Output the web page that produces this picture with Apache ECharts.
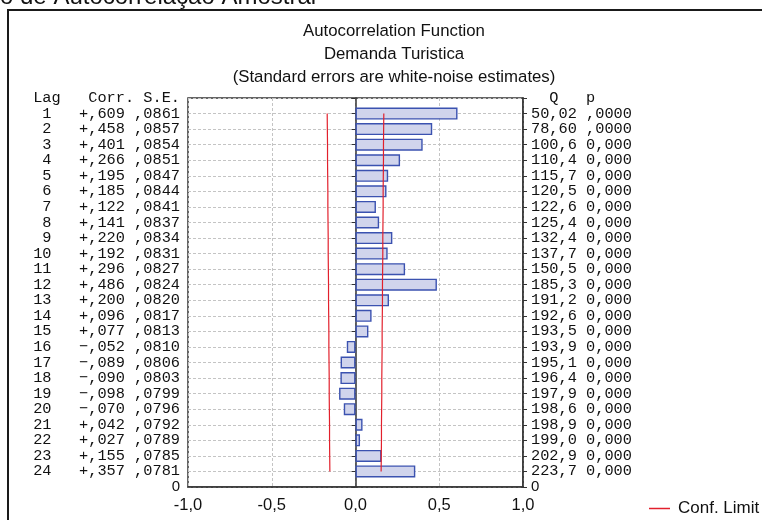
<!DOCTYPE html>
<html><head><meta charset="utf-8">
<script src="https://cdn.jsdelivr.net/npm/echarts@6/dist/echarts.min.js"></script>
<style>html,body{margin:0;padding:0;background:#fff}#c{width:762px;height:520px}</style>
</head><body><div id="c"></div>
<script>
const lags = [1,2,3,4,5,6,7,8,9,10,11,12,13,14,15,16,17,18,19,20,21,22,23,24];
const corr = [0.609,0.458,0.401,0.266,0.195,0.185,0.122,0.141,0.220,0.192,0.296,0.486,0.200,0.096,0.077,-0.052,-0.089,-0.090,-0.098,-0.070,0.042,0.027,0.155,0.357];
const se = [0.0861,0.0857,0.0854,0.0851,0.0847,0.0844,0.0841,0.0837,0.0834,0.0831,0.0827,0.0824,0.0820,0.0817,0.0813,0.0810,0.0806,0.0803,0.0799,0.0796,0.0792,0.0789,0.0785,0.0781];
const qText = ['50,02','78,60','100,6','110,4','115,7','120,5','122,6','125,4','132,4','137,7','150,5','185,3','191,2','192,6','193,5','193,9','195,1','196,4','197,9','198,6','198,9','199,0','202,9','223,7'];
const pText = [',0000',',0000','0,000','0,000','0,000','0,000','0,000','0,000','0,000','0,000','0,000','0,000','0,000','0,000','0,000','0,000','0,000','0,000','0,000','0,000','0,000','0,000','0,000','0,000'];
const confUpper = [0.169,0.168,0.167,0.167,0.166,0.165,0.165,0.164,0.163,0.163,0.162,0.161,0.161,0.160,0.159,0.159,0.158,0.157,0.157,0.156,0.155,0.155,0.154,0.153];
const confLower = [-0.169,-0.168,-0.167,-0.167,-0.166,-0.165,-0.165,-0.164,-0.163,-0.163,-0.162,-0.161,-0.161,-0.160,-0.159,-0.159,-0.158,-0.157,-0.157,-0.156,-0.155,-0.155,-0.154,-0.153];
const xTickValues = [-1,-0.5,0,0.5,1];
const xTickLabels = ['-1,0','-0,5','0,0','0,5','1,0'];
const leftHeader = 'Lag   Corr. S.E.';
const rightHeader = '  Q   p';
const zeroLabel = '0';
const titleLines = ['Autocorrelation Function','Demanda Turistica','(Standard errors are white-noise estimates)'];
const pageHeading = 'o de Autocorrelação Amostral';
const legendName = 'Conf. Limit';

const SANS = "'Liberation Sans', Arial, sans-serif";
const MONO = "'Liberation Mono', 'Courier New', monospace";

const cats = ['H'].concat(lags.map(String)).concat(['Z']);
function fmtCorr(v){ const s = Math.abs(v).toFixed(3).replace('0.', ','); return (v < 0 ? '\u2212' : '+') + s; }
function fmtSe(v){ return v.toFixed(4).replace('0.', ','); }
function pad2(n){ return (n < 10 ? ' ' : '') + n; }

const rich = {
  m: {fontFamily: MONO, fontSize: 15.3, color: '#111'},
  s: {fontFamily: SANS, fontSize: 15, color: '#111'}
};

const chart = echarts.init(document.getElementById('c'), null, {renderer: 'canvas'});
chart.setOption({
  backgroundColor: '#fff',
  animation: false,
  title: {
    text: titleLines.join('\n'),
    left: 394, top: 20, textAlign: 'center', padding: 0,
    textStyle: {fontFamily: SANS, fontSize: 16.8, fontWeight: 'normal', color: '#111', lineHeight: 23}
  },
  graphic: [
    {type: 'rect', shape: {x: 8, y: 10, width: 800, height: 600}, style: {fill: 'none', stroke: '#1a1a1a', lineWidth: 2}, silent: true},
    {type: 'text', left: 0, top: -15, style: {text: pageHeading, fontFamily: SANS, fontSize: 24, fill: '#111'}, silent: true}
  ],
  legend: {
    data: [legendName], left: 649, top: 500, padding: 0,
    icon: 'rect', itemWidth: 21, itemHeight: 1.5, itemGap: 6,
    textStyle: {fontFamily: SANS, fontSize: 17, color: '#111', padding: [0, 0, 0, 3]}
  },
  grid: {left: 188, right: 239, top: 98, bottom: 33, show: true, borderColor: '#333', borderWidth: 1.5, containLabel: false},
  xAxis: {
    type: 'value', min: -1, max: 1, interval: 0.5,
    axisLine: {show: true, lineStyle: {color: '#333', width: 1.5}},
    axisTick: {show: false},
    axisLabel: {margin: 10, fontFamily: SANS, fontSize: 16.5, color: '#111',
      formatter: function(v){ const i = xTickValues.indexOf(v); return i >= 0 ? xTickLabels[i] : ''; }},
    splitLine: {show: true, lineStyle: {color: '#c4c4c4', type: [3, 2], width: 1}}
  },
  yAxis: [
    {
      type: 'category', data: cats, inverse: true, boundaryGap: false, position: 'left',
      axisLine: {show: true, lineStyle: {color: '#333', width: 1.5}},
      axisTick: {show: true, interval: 0, length: 4, lineStyle: {color: '#333'}},
      axisLabel: {interval: 0, margin: 8, rich: rich,
        formatter: function(v){
          if (v === 'H') return '{m|' + leftHeader + '}';
          if (v === 'Z') return '{s|' + zeroLabel + '}';
          const i = lags.indexOf(Number(v));
          return '{m|' + pad2(lags[i]) + '   ' + fmtCorr(corr[i]) + ' ' + fmtSe(se[i]) + '}';
        }},
      splitLine: {show: true, interval: 0, lineStyle: {color: '#c4c4c4', type: [3, 2], width: 1}}
    },
    {
      type: 'category', data: cats, inverse: true, boundaryGap: false, position: 'right',
      axisLine: {show: true, lineStyle: {color: '#333', width: 1.5}},
      axisTick: {show: true, interval: 0, length: 4, lineStyle: {color: '#333'}},
      axisLabel: {interval: 0, margin: 8, rich: rich,
        formatter: function(v){
          if (v === 'H') return '{m|' + rightHeader + '}';
          if (v === 'Z') return '{s|' + zeroLabel + '}';
          const i = lags.indexOf(Number(v));
          return '{m|' + qText[i] + ' ' + pText[i] + '}';
        }},
      splitLine: {show: false}
    }
  ],
  series: [
    {
      type: 'bar', name: 'Corr', yAxisIndex: 0, barWidth: 12,
      data: lags.map(function(l, i){ return [corr[i], l]; }),
      itemStyle: {color: '#d0d4ec', borderColor: '#3b52b0', borderWidth: 1.4}
    },
    {
      type: 'line', name: legendName, yAxisIndex: 0, symbol: 'none',
      data: lags.map(function(l, i){ return [confUpper[i], l]; }),
      itemStyle: {color: '#e2202c'}, lineStyle: {color: '#e2202c', width: 1.2}
    },
    {
      type: 'line', name: legendName, yAxisIndex: 0, symbol: 'none',
      data: lags.map(function(l, i){ return [confLower[i], l]; }),
      itemStyle: {color: '#e2202c'}, lineStyle: {color: '#e2202c', width: 1.2}
    }
  ]
});
</script>
</body></html>
